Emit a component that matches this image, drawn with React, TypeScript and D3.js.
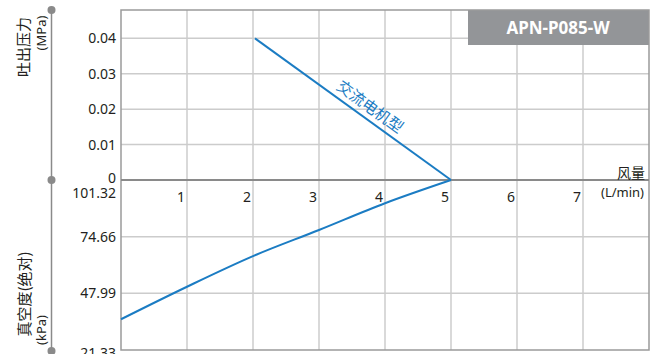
import React from 'react';
import * as d3 from 'd3';

// flow axis (L/min)
const flowTicks = [1, 2, 3, 4, 5, 6, 7];
// discharge pressure (MPa)
const pressureTicks = [0.01, 0.02, 0.03, 0.04];
// vacuum, absolute (kPa)
const vacuumTicks = [74.66, 47.99];
const vacuumLabels = ['101.32', '74.66', '47.99', '21.33'];

// AC motor type curves
const pressureFlow = [2.03, 5.0];
const pressureValues = [0.04, 0];
const vacuumFlow = [0, 1, 2, 3, 4, 5];
const vacuumValues = [35.8, 51.1, 65.5, 77.8, 90.4, 101.32];

const W = 659, H = 354;
const left = 121, right = 649, top = 10, zeroY = 180, bottom = 350;
const blue = '#1b7cc3';
const grid = '#cccccc';
const font = '"Noto Sans", "Open Sans", sans-serif';
const cjk = '"Noto Sans CJK SC", sans-serif';

export default function App() {
  const x = d3.scaleLinear().domain([0, 8]).range([left, right]);
  const yP = d3.scaleLinear().domain([0, 0.048]).range([zeroY, top]);
  const yV = d3.scaleLinear().domain([101.32, 21.33]).range([zeroY, bottom]);

  const pLine = d3.line<number>()
    .x((d) => x(d))
    .y((_, i) => yP(pressureValues[i]));
  const vLine = d3.line<number>()
    .x((d) => x(d))
    .y((_, i) => yV(vacuumValues[i]))
    .curve(d3.curveCatmullRom);

  const x0 = x(pressureFlow[0]), y0 = yP(pressureValues[0]);
  const x1 = x(pressureFlow[1]), y1 = yP(pressureValues[1]);
  const angle = Math.atan2(y1 - y0, x1 - x0) * 180 / Math.PI;
  const lx = x0 + (x1 - x0) * 0.55 + 4, ly = y0 + (y1 - y0) * 0.55 - 5;

  return (
    <svg width={W} height={H} style={{ position: 'absolute', left: 0, top: 0, background: '#fff' }}>
      {/* left axis with dots */}
      <line x1={51.5} x2={51.5} y1={top} y2={bottom + 2} stroke="#8a8a8a" strokeWidth={1.5} />
      {[top, zeroY, bottom + 1].map((cy, i) => (
        <circle key={i} cx={51.5} cy={cy} r={4} fill="#8a8a8a" />
      ))}
      <text transform="translate(29,47) rotate(-90)" textAnchor="middle" fontFamily={cjk} fontSize={15} fill="#231f20">吐出压力</text>
      <text transform="translate(46,33) rotate(-90)" textAnchor="middle" fontFamily={font} fontSize={13} fill="#231f20">(MPa)</text>
      <text transform="translate(30,294) rotate(-90)" textAnchor="middle" fontFamily={cjk} fontSize={15} fill="#231f20">真空度(绝对)</text>
      <text transform="translate(46,330) rotate(-90)" textAnchor="middle" fontFamily={font} fontSize={13} fill="#231f20">(kPa)</text>

      {/* grid */}
      {flowTicks.map((t) => (
        <line key={'v' + t} x1={x(t)} x2={x(t)} y1={top} y2={bottom} stroke={grid} strokeWidth={1.5} />
      ))}
      {pressureTicks.map((t) => (
        <line key={'p' + t} x1={left} x2={right} y1={yP(t)} y2={yP(t)} stroke={grid} strokeWidth={1.5} />
      ))}
      {vacuumTicks.map((t) => (
        <line key={'q' + t} x1={left} x2={right} y1={yV(t)} y2={yV(t)} stroke={grid} strokeWidth={1.5} />
      ))}

      {/* model box */}
      <rect x={468} y={top} width={right - 468} height={35} fill="#939598" />
      <text x={558} y={34} textAnchor="middle" fontFamily={font} fontWeight="bold" fontSize={17} fill="#fff">APN-P085-W</text>

      {/* frame */}
      <rect x={left} y={top} width={right - left} height={bottom - top} fill="none" stroke="#9a9a9a" strokeWidth={1.5} />
      <line x1={left} x2={right} y1={zeroY} y2={zeroY} stroke="#8a8a8a" strokeWidth={2} />

      {/* y tick labels */}
      {pressureTicks.map((t) => (
        <text key={'pl' + t} x={116} y={yP(t) + 5} textAnchor="end" fontFamily={font} fontSize={14} fill="#231f20">{t.toFixed(2)}</text>
      ))}
      <text x={116} y={zeroY + 3} textAnchor="end" fontFamily={font} fontSize={14} fill="#231f20">0</text>
      {vacuumLabels.map((t, i) => (
        <text key={'vl' + t} x={116} y={i === 0 ? zeroY + 18 : yV(+t) + 5 + (i === 3 ? 3 : 0)} textAnchor="end" fontFamily={font} fontSize={14} fill="#231f20">{t}</text>
      ))}

      {/* x tick labels */}
      {flowTicks.map((t) => (
        <text key={'xl' + t} x={x(t) - 2} y={zeroY + 22} textAnchor="end" fontFamily={font} fontSize={14} fill="#231f20">{t}</text>
      ))}
      <text x={645} y={178} textAnchor="end" fontFamily={cjk} fontSize={14} fill="#231f20">风量</text>
      <text x={644} y={197} textAnchor="end" fontFamily={font} fontSize={13} fill="#231f20">(L/min)</text>

      {/* curves */}
      <path d={pLine(pressureFlow) || ''} fill="none" stroke={blue} strokeWidth={2} />
      <path d={vLine(vacuumFlow) || ''} fill="none" stroke={blue} strokeWidth={2} />
      <text transform={`translate(${lx},${ly}) rotate(${angle})`} textAnchor="middle" fontFamily={cjk} fontSize={15.5} fill={blue}>交流电机型</text>
    </svg>
  );
}
